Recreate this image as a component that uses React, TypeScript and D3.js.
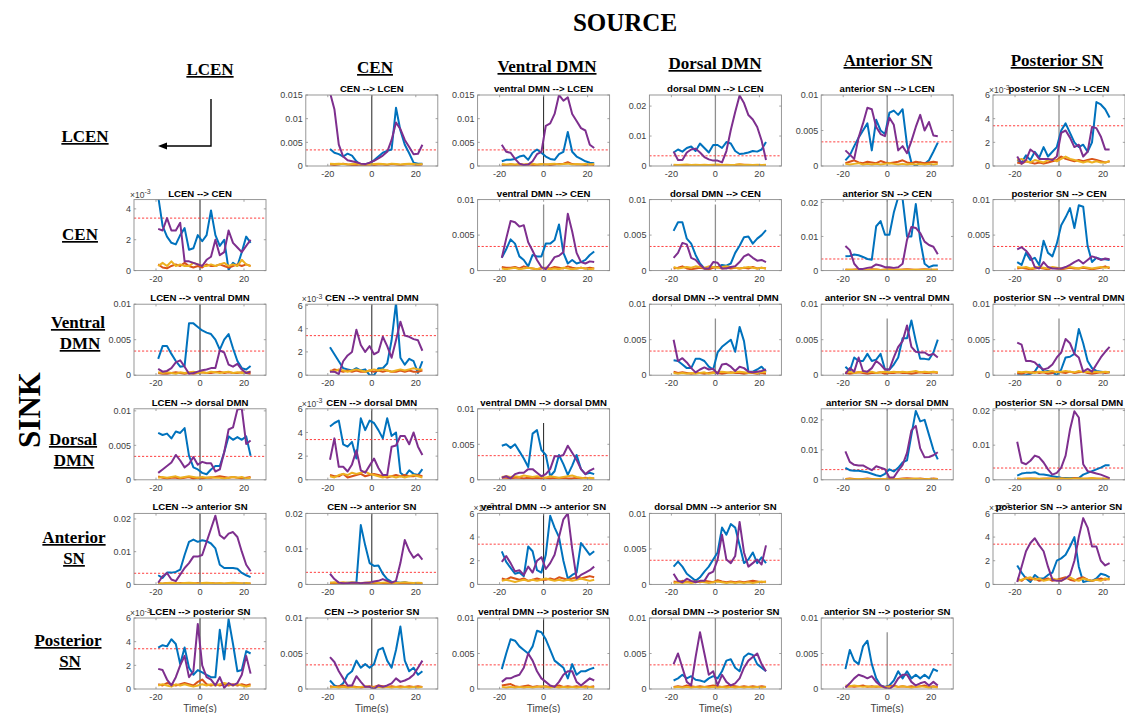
import React from "react";
import * as d3 from "d3";

// ---- time axis -------------------------------------------------------------
const TIME_POINTS = [-19, -17, -15, -13, -11, -9, -7, -5, -3, -1, 1, 3, 5, 7, 9, 11, 13, 15, 17, 19, 21, 23];
const X_DOMAIN: [number, number] = [-30, 30];
const X_TICKS = [-20, 0, 20];
const THRESHOLD = 3.4; // in units of 1e-3

// ---- regions ---------------------------------------------------------------
const REGION_NAMES = ["LCEN", "CEN", "ventral DMN", "dorsal DMN", "anterior SN", "posterior SN"];
const SOURCE_HEADERS = ["LCEN", "CEN", "Ventral DMN", "Dorsal DMN", "Anterior SN", "Posterior SN"];
const SINK_HEADERS = [["LCEN"], ["CEN"], ["Ventral", "DMN"], ["Dorsal", "DMN"], ["Anterior", "SN"], ["Posterior", "SN"]];

// ---- panels (column = source, row = sink) ---------------------------------
const panelSource = [1, 2, 3, 4, 5, 0, 2, 3, 4, 5, 0, 1, 3, 4, 5, 0, 1, 2, 4, 5, 0, 1, 2, 3, 5, 0, 1, 2, 3, 4];
const panelSink = [0, 0, 0, 0, 0, 1, 1, 1, 1, 1, 2, 2, 2, 2, 2, 3, 3, 3, 3, 3, 4, 4, 4, 4, 4, 5, 5, 5, 5, 5];
// upper y limit of each panel, units of 1e-3
const panelYMax = [15, 15, 23.7, 10, 6, 4.6, 10, 10, 20.8, 10, 10, 6.1, 10, 10, 10, 10.3, 6, 10, 23.7, 20.5, 21.7, 20, 6, 10, 6, 6, 10, 10, 10, 10];
// top of the onset marker at t = 0 (null: full height), units of 1e-3
const onsetTop: (number | null)[] = [null, null, null, null, null, null, 9.3, 9.3, null, null, null, null, 8, 8, 8, null, null, 8, null, null, null, null, null, null, null, null, null, null, null, 8];
const onsetGray = [false, false, true, true, true, false, true, true, true, true, false, false, true, true, true, false, false, false, true, true, false, false, false, true, true, false, false, false, true, true];

// ---- series, units of 1e-3 -------------------------------------------------
const blueSeries: number[][] = [
  [3.6, 2.8, 2.5, 2.0, 2.6, 2.2, 1.0, 0.2, 0.4, 0.6, 1.2, 2.0, 2.8, 3.2, 3.5, 12.3, 7.5, 4.5, 2.7, 0.7, 0.5, 0.5],
  [1.0, 1.3, 1.3, 1.5, 2.0, 2.2, 1.3, 2.8, 3.5, 2.8, 2.0, 1.5, 1.3, 2.5, 3.0, 7.2, 3.0, 2.0, 1.5, 1.0, 0.7, 0.6],
  [4.5, 5.5, 4.8, 6.0, 6.5, 5.0, 7.5, 6.0, 4.5, 7.0, 7.0, 6.0, 8.0, 7.5, 5.0, 4.0, 4.2, 4.5, 5.0, 4.8, 5.5, 8.0],
  [0.8, 1.5, 2.8, 4.0, 5.0, 6.0, 2.2, 6.5, 5.0, 4.5, 7.5, 7.8, 7.2, 8.0, 3.0, 0.5, 0.0, 0.5, 0.3, 0.8, 2.0, 3.3],
  [0.5, 0.3, 0.9, 0.5, 1.2, 0.7, 1.6, 0.8, 1.2, 1.6, 3.0, 3.6, 2.8, 2.0, 1.6, 1.8, 1.2, 2.0, 5.4, 5.2, 4.8, 4.1],
  [4.8, 2.9, 2.2, 1.8, 1.7, 2.3, 2.75, 1.35, 1.45, 2.3, 1.9, 2.3, 3.9, 2.3, 1.6, 2.0, 0.05, 0.5, 0.3, 1.2, 2.2, 1.8],
  [1.8, 3.0, 4.4, 3.8, 2.0, 1.5, 0.6, 2.2, 2.0, 2.0, 3.8, 3.8, 4.3, 6.5, 2.5, 1.0, 1.5, 1.0, 1.2, 1.5, 2.2, 2.7],
  [5.6, 6.8, 6.8, 4.5, 3.8, 2.2, 1.0, 0.3, 0.2, 0.5, 0.5, 0.8, 0.7, 1.0, 2.5, 3.5, 4.7, 4.8, 3.8, 4.5, 5.0, 5.7],
  [4.2, 4.3, 4.7, 4.5, 4.0, 3.4, 3.2, 13.0, 14.5, 10.5, 10.5, 17.0, 21.5, 21.0, 10.0, 10.0, 19.5, 9.0, 2.0, 1.0, 1.5, 1.5],
  [1.2, 0.8, 2.5, 1.5, 1.8, 0.8, 4.2, 2.5, 2.0, 3.8, 6.4, 7.5, 8.8, 6.0, 9.2, 9.0, 3.5, 1.2, 1.8, 1.6, 1.6, 1.5],
  [2.3, 4.1, 4.1, 3.0, 2.0, 1.2, 1.3, 7.3, 7.3, 6.8, 6.3, 6.0, 5.8, 5.0, 3.6, 5.0, 5.8, 3.8, 2.0, 1.0, 0.8, 1.3],
  [2.4, 1.8, 1.2, 0.6, 0.5, 0.4, 0.6, 0.4, 0.5, 0.0, 0.0, 0.6, 0.6, 1.0, 3.0, 6.2, 1.5, 0.9, 1.4, 1.2, 0.2, 1.2],
  [2.1, 2.0, 1.5, 1.0, 1.0, 2.3, 2.3, 2.0, 1.2, 0.8, 3.2, 4.0, 4.5, 5.0, 3.3, 6.8, 4.8, 0.5, 0.5, 0.8, 1.2, 0.5],
  [1.2, 0.6, 2.5, 2.0, 2.0, 3.0, 2.0, 2.2, 3.0, 0.8, 0.8, 1.5, 2.5, 5.2, 5.2, 7.7, 4.8, 2.3, 2.3, 2.2, 3.2, 5.0],
  [0.0, 0.0, 0.0, 0.2, 0.5, 1.5, 0.5, 0.6, 0.4, 0.0, 0.8, 2.5, 2.6, 3.0, 6.5, 4.5, 2.0, 1.0, 0.6, 0.5, 0.4, 0.4],
  [6.8, 6.5, 6.7, 6.0, 7.0, 6.8, 7.5, 3.5, 1.8, 1.5, 1.0, 0.8, 1.5, 2.0, 2.0, 4.0, 6.3, 5.8, 6.2, 5.8, 6.3, 3.5],
  [4.5, 4.8, 5.0, 3.0, 2.8, 3.2, 1.8, 5.2, 4.2, 5.0, 4.8, 4.2, 3.5, 5.2, 3.7, 4.0, 0.6, 0.3, 0.8, 0.5, 0.4, 0.9],
  [4.8, 5.0, 4.5, 5.0, 4.0, 3.0, 1.8, 6.5, 7.0, 4.2, 3.5, 0.5, 1.2, 3.5, 2.2, 0.7, 2.0, 3.5, 1.5, 0.8, 1.0, 0.8],
  [4.0, 3.2, 3.0, 3.0, 2.8, 2.5, 2.0, 1.5, 1.2, 2.0, 3.5, 2.8, 4.0, 5.8, 6.5, 15.0, 23.0, 19.5, 20.0, 15.0, 10.0, 6.8],
  [1.2, 1.8, 2.0, 2.0, 2.2, 1.6, 1.5, 1.3, 1.0, 0.8, 0.6, 0.5, 0.5, 0.5, 0.5, 1.5, 2.0, 2.5, 3.0, 3.5, 4.2, 4.2],
  [2.8, 2.0, 3.6, 3.6, 3.8, 4.5, 9.0, 13.0, 13.7, 13.0, 13.5, 13.2, 12.5, 11.0, 6.0, 5.0, 5.0, 5.0, 4.8, 3.5, 2.8, 2.2],
  [0.5, 0.3, 0.3, 0.3, 0.5, 0.5, 0.5, 16.7, 11.0, 6.0, 5.2, 5.3, 3.0, 1.5, 0.7, 0.6, 0.5, 0.6, 0.3, 0.2, 0.1, 0.0],
  [2.8, 1.9, 1.4, 0.9, 1.0, 0.7, 3.2, 2.8, 1.2, 1.0, 2.5, 5.8, 4.8, 4.0, 2.0, 0.5, 0.8, 1.0, 3.5, 3.0, 2.5, 2.8],
  [2.5, 3.2, 2.5, 1.5, 1.0, 0.5, 1.0, 1.8, 2.5, 3.5, 4.5, 8.0, 7.0, 8.5, 8.0, 5.5, 3.0, 3.5, 4.5, 3.0, 3.8, 3.0],
  [1.6, 1.0, 0.5, 0.2, 0.8, 0.5, 0.5, 0.8, 1.0, 2.0, 2.2, 2.5, 3.2, 4.0, 1.5, 0.2, 0.3, 0.3, 0.5, 0.9, 0.8, 0.6],
  [3.5, 3.7, 3.6, 4.2, 3.8, 2.1, 3.5, 1.8, 1.2, 1.6, 1.4, 1.2, 1.0, 1.0, 5.0, 2.5, 5.9, 3.8, 1.5, 1.6, 3.2, 3.0],
  [1.2, 0.5, 0.3, 0.8, 2.0, 2.5, 4.0, 3.0, 3.5, 3.0, 3.5, 5.5, 5.8, 4.0, 3.0, 5.5, 8.8, 4.0, 2.5, 3.0, 2.0, 2.5],
  [2.8, 5.0, 7.0, 6.8, 6.0, 5.5, 5.0, 6.0, 8.2, 8.0, 7.0, 5.5, 4.0, 3.5, 3.0, 1.5, 3.5, 2.0, 2.5, 2.5, 2.8, 3.0],
  [1.2, 1.5, 2.0, 1.5, 1.8, 1.3, 1.2, 1.0, 1.5, 1.8, 1.5, 2.5, 4.0, 4.2, 3.0, 2.5, 4.5, 5.0, 4.8, 3.5, 3.0, 2.5],
  [2.8, 5.5, 4.0, 3.5, 6.0, 6.8, 3.5, 1.5, 0.5, 0.3, 0.5, 1.2, 2.5, 1.5, 2.5, 1.5, 2.0, 1.5, 2.0, 1.5, 2.8, 2.5],
];

const purpleSeries: number[][] = [
  [15.5, 12.0, 4.5, 2.0, 1.2, 1.0, 0.8, 0.5, 0.4, 0.7, 1.1, 1.6, 2.2, 3.0, 5.5, 9.2, 7.8, 5.5, 4.0, 2.5, 2.6, 4.5],
  [4.5, 3.0, 2.8, 1.5, 0.5, 0.2, 0.3, 1.0, 2.5, 3.0, 8.5, 9.0, 11.0, 15.0, 13.8, 14.5, 11.0, 9.5, 8.0, 7.5, 4.5, 3.8],
  [4.8, 2.0, 2.0, 4.5, 5.5, 5.8, 4.5, 3.0, 2.2, 1.8, 1.8, 1.2, 5.0, 12.0, 18.0, 23.5, 21.0, 17.0, 15.5, 13.0, 8.5, 2.0],
  [2.2, 1.6, 1.0, 4.0, 6.0, 8.2, 8.0, 5.5, 4.5, 4.2, 6.8, 5.8, 2.2, 2.8, 1.8, 3.5, 5.5, 7.2, 5.0, 6.2, 4.3, 4.2],
  [0.8, 0.2, 0.5, 1.4, 1.1, 0.6, 0.6, 0.6, 0.5, 0.8, 2.8, 3.0, 2.4, 1.6, 1.8, 0.8, 1.2, 3.3, 3.2, 2.5, 1.4, 1.4],
  [2.7, 2.6, 3.4, 2.6, 2.6, 3.1, 0.6, 0.6, 0.5, 0.4, 0.3, 0.7, 0.9, 2.0, 1.0, 1.2, 2.6, 1.8, 1.5, 1.2, 1.6, 2.0],
  [1.8, 4.5, 7.0, 6.8, 6.2, 6.4, 4.0, 2.8, 1.5, 0.5, 0.2, 1.0, 1.9, 2.1, 2.6, 8.0, 5.5, 2.5, 1.2, 1.0, 1.3, 1.2],
  [1.8, 2.5, 3.9, 3.7, 1.8, 1.5, 0.8, 0.3, 0.3, 1.2, 1.1, 0.3, 0.3, 0.5, 0.6, 1.2, 2.0, 2.3, 1.8, 1.4, 1.5, 1.2],
  [7.2, 6.0, 2.0, 0.5, 0.5, 0.8, 1.0, 1.8, 1.5, 1.0, 1.0, 0.8, 1.0, 2.0, 9.0, 12.8, 12.5, 11.0, 8.5, 7.5, 7.0, 4.8],
  [3.0, 3.3, 2.8, 2.0, 0.5, 0.3, 1.2, 0.5, 0.3, 0.3, 0.3, 0.5, 0.8, 1.2, 1.5, 1.0, 1.5, 2.0, 1.8, 1.5, 1.7, 1.6],
  [0.9, 0.5, 0.6, 1.0, 1.8, 2.1, 1.2, 0.2, 0.3, 0.5, 0.7, 0.8, 1.0, 1.0, 3.5, 3.2, 1.5, 1.2, 1.6, 0.8, 0.3, 0.5],
  [0.3, 0.3, 0.1, 1.2, 1.7, 2.0, 3.9, 2.6, 2.0, 2.5, 1.8, 2.0, 3.3, 2.5, 1.5, 3.0, 4.6, 3.4, 3.3, 3.1, 3.0, 2.1],
  [5.0, 2.0, 2.4, 1.8, 1.0, 0.4, 0.8, 1.1, 0.8, 0.9, 0.2, 1.5, 1.6, 1.2, 0.6, 1.2, 1.0, 0.5, 0.4, 0.5, 0.6, 0.8],
  [0.2, 1.0, 0.5, 2.5, 0.6, 0.5, 1.0, 2.0, 1.5, 0.8, 0.8, 2.5, 4.0, 4.8, 7.0, 4.0, 3.3, 3.2, 3.2, 2.8, 3.0, 2.5],
  [4.6, 4.3, 2.0, 2.0, 1.8, 1.2, 0.8, 1.0, 1.5, 2.5, 3.2, 5.1, 4.5, 3.0, 2.5, 0.5, 0.9, 0.5, 1.5, 2.5, 3.3, 4.0],
  [1.0, 1.5, 2.0, 2.5, 3.6, 2.8, 1.8, 2.3, 3.3, 2.2, 2.6, 2.4, 2.4, 1.2, 1.5, 4.0, 7.3, 7.6, 10.2, 10.3, 5.2, 5.7],
  [1.7, 3.5, 1.1, 1.1, 0.7, 1.3, 2.5, 0.8, 0.6, 1.2, 1.8, 1.0, 0.4, 0.4, 2.8, 2.9, 3.7, 3.7, 3.0, 4.0, 2.8, 2.1],
  [0.3, 0.5, 0.2, 0.8, 1.0, 1.0, 1.5, 1.5, 1.0, 0.5, 0.8, 1.5, 3.3, 3.3, 3.5, 4.8, 3.8, 2.8, 1.5, 0.8, 1.3, 1.6],
  [9.5, 6.0, 5.0, 4.8, 4.8, 4.0, 3.2, 4.5, 4.0, 3.5, 0.8, 0.8, 3.0, 5.0, 9.0, 16.5, 18.0, 10.5, 7.5, 7.6, 8.2, 9.2],
  [11.0, 5.0, 4.5, 5.5, 7.0, 6.5, 5.0, 3.0, 1.5, 2.0, 3.5, 7.0, 14.5, 19.8, 18.0, 4.5, 2.5, 2.2, 1.8, 1.5, 1.0, 0.5],
  [0.5, 2.5, 3.5, 1.5, 1.0, 3.0, 5.0, 6.5, 8.5, 8.5, 9.0, 13.0, 17.0, 21.0, 15.0, 14.0, 15.5, 16.0, 14.5, 10.0, 6.0, 4.0],
  [3.0, 1.5, 0.5, 0.3, 0.3, 0.5, 0.5, 0.3, 0.5, 0.5, 0.8, 1.0, 1.5, 1.0, 0.5, 1.0, 6.0, 12.5, 9.5, 7.5, 8.5, 7.0],
  [1.9, 2.4, 1.8, 1.1, 1.2, 0.8, 1.5, 1.0, 2.0, 2.3, 1.3, 1.8, 2.5, 4.0, 5.5, 6.0, 3.0, 0.5, 0.8, 1.0, 1.2, 1.5],
  [1.5, 0.5, 0.3, 0.8, 0.5, 0.3, 0.5, 0.5, 1.5, 1.8, 3.5, 7.0, 3.5, 3.0, 4.0, 8.8, 4.5, 2.5, 3.0, 3.5, 2.8, 5.5],
  [0.2, 1.5, 2.8, 3.5, 3.9, 3.3, 2.8, 1.5, 0.4, 0.3, 0.3, 0.5, 0.8, 2.0, 4.0, 5.6, 4.8, 3.2, 3.2, 2.0, 1.6, 1.8],
  [1.7, 1.6, 0.8, 0.3, 1.0, 2.0, 2.8, 1.0, 1.5, 5.5, 2.0, 1.0, 0.8, 0.3, 1.0, 0.1, 0.5, 0.3, 0.5, 1.2, 2.8, 1.3],
  [4.5, 3.8, 2.5, 1.5, 0.5, 0.5, 1.8, 1.0, 0.3, 0.3, 0.0, 0.5, 0.3, 0.5, 0.8, 1.5, 1.0, 1.2, 1.5, 2.0, 3.0, 4.0],
  [1.0, 1.5, 1.5, 1.8, 2.0, 3.0, 5.0, 4.0, 2.5, 1.5, 1.0, 0.5, 0.3, 1.0, 2.0, 2.5, 2.5, 1.0, 0.5, 1.0, 1.5, 1.2],
  [3.5, 5.0, 3.0, 1.0, 0.5, 4.5, 8.0, 5.0, 2.0, 2.5, 0.5, 2.0, 1.0, 0.5, 0.8, 1.5, 3.0, 4.0, 4.5, 5.0, 3.5, 2.5],
  [0.2, 0.8, 1.5, 2.0, 1.8, 1.5, 1.8, 1.0, 0.5, 0.2, 0.0, 0.5, 1.5, 2.0, 2.0, 1.0, 0.5, 0.8, 1.0, 0.5, 1.0, 0.5],
];

const orangeSeries: number[][] = [
  [0.3, 0.2, 0.3, 0.5, 0.3, 0.2, 0.2, 0.3, 0.2, 0.3, 0.2, 0.3, 0.3, 0.2, 0.4, 0.3, 0.2, 0.3, 0.4, 0.3, 0.2, 0.3],
  [0.2, 0.2, 0.3, 0.2, 0.3, 0.2, 0.3, 0.2, 0.2, 0.3, 0.3, 0.2, 0.3, 0.4, 0.5, 0.8, 0.4, 0.3, 0.3, 0.2, 0.3, 0.2],
  [0.2, 0.3, 0.2, 0.3, 0.2, 0.3, 0.2, 0.2, 0.3, 0.2, 0.2, 0.3, 0.2, 0.3, 0.3, 0.5, 0.4, 0.3, 0.2, 0.3, 0.2, 0.2],
  [0.4, 0.6, 0.8, 0.5, 0.4, 0.6, 0.5, 0.4, 0.7, 0.5, 0.4, 0.5, 0.6, 0.8, 0.5, 0.4, 0.6, 0.5, 0.4, 0.5, 0.6, 0.5],
  [0.3, 0.2, 0.4, 0.3, 0.2, 0.3, 0.2, 0.3, 0.4, 0.5, 0.8, 0.6, 0.5, 0.4, 0.5, 0.4, 0.5, 0.6, 0.5, 0.4, 0.3, 0.4],
  [0.4, 0.2, 0.15, 0.3, 0.4, 0.3, 0.5, 0.3, 0.2, 0.3, 0.2, 0.4, 0.3, 0.3, 0.4, 0.3, 0.2, 0.3, 0.4, 0.3, 0.4, 0.3],
  [0.5, 0.4, 0.4, 0.5, 0.3, 0.6, 0.4, 0.3, 0.2, 0.3, 0.4, 0.3, 0.5, 0.4, 0.3, 0.6, 0.4, 0.3, 0.4, 0.3, 0.4, 0.3],
  [0.3, 0.4, 0.6, 0.3, 0.2, 0.3, 0.4, 0.3, 0.2, 0.4, 0.5, 0.3, 0.4, 0.3, 0.4, 0.3, 0.4, 0.3, 0.5, 0.3, 0.4, 0.3],
  [0.3, 0.2, 0.3, 0.4, 0.3, 0.2, 0.4, 0.3, 0.2, 0.3, 0.4, 0.3, 0.2, 0.3, 0.4, 0.3, 0.2, 0.3, 0.4, 0.3, 0.2, 0.3],
  [0.3, 0.4, 0.3, 0.2, 0.3, 0.4, 0.3, 0.2, 0.4, 0.3, 0.2, 0.3, 0.4, 0.3, 0.3, 0.4, 0.3, 0.2, 0.3, 0.4, 0.6, 0.3],
  [0.3, 0.2, 0.2, 0.3, 0.4, 0.3, 0.2, 0.3, 0.2, 0.3, 0.4, 0.3, 0.3, 0.4, 0.5, 0.3, 0.4, 0.3, 0.3, 0.4, 0.3, 0.2],
  [0.3, 0.5, 0.4, 0.3, 0.4, 0.3, 0.4, 0.3, 0.3, 0.4, 0.3, 0.4, 0.3, 0.4, 0.3, 0.3, 0.4, 0.3, 0.4, 0.3, 0.3, 0.4],
  [0.5, 0.3, 0.4, 0.3, 0.2, 0.3, 0.3, 0.2, 0.3, 0.4, 0.3, 0.2, 0.3, 0.4, 0.3, 0.3, 0.2, 0.3, 0.3, 0.2, 0.3, 0.2],
  [0.3, 0.2, 0.3, 0.4, 0.3, 0.2, 0.3, 0.3, 0.4, 0.2, 0.3, 0.3, 0.4, 0.3, 0.3, 0.2, 0.3, 0.4, 0.3, 0.3, 0.4, 0.3],
  [0.3, 0.2, 0.4, 0.3, 0.5, 0.3, 0.4, 0.2, 0.3, 0.5, 0.4, 0.3, 0.5, 0.3, 0.4, 0.5, 0.3, 0.2, 0.3, 0.4, 0.3, 0.4],
  [0.5, 0.3, 0.2, 0.3, 0.3, 0.2, 0.3, 0.4, 0.2, 0.3, 0.2, 0.3, 0.3, 0.4, 0.5, 0.4, 0.3, 0.4, 0.3, 0.2, 0.3, 0.4],
  [0.4, 0.3, 0.3, 0.5, 0.2, 0.3, 0.4, 0.5, 0.3, 0.4, 0.5, 0.4, 0.3, 0.2, 0.3, 0.4, 0.3, 0.4, 0.3, 0.3, 0.4, 0.3],
  [0.3, 0.3, 0.2, 0.3, 0.3, 0.2, 0.3, 0.2, 0.3, 0.2, 0.3, 0.2, 0.3, 0.2, 0.3, 0.2, 0.2, 0.3, 0.2, 0.3, 0.2, 0.2],
  [0.3, 0.4, 0.3, 0.2, 0.3, 0.4, 0.3, 0.3, 0.2, 0.3, 0.4, 0.3, 0.3, 0.4, 0.5, 0.4, 0.3, 0.4, 0.3, 0.3, 0.4, 0.3],
  [0.3, 0.2, 0.3, 0.4, 0.3, 0.2, 0.3, 0.4, 0.3, 0.3, 0.4, 0.3, 0.2, 0.5, 0.4, 0.3, 0.3, 0.4, 0.3, 0.3, 0.2, 0.3],
  [0.3, 0.2, 0.4, 0.3, 0.3, 0.4, 0.3, 0.3, 0.2, 0.4, 0.3, 0.3, 0.4, 0.3, 0.3, 0.2, 0.3, 0.4, 0.3, 0.3, 0.2, 0.3],
  [0.3, 0.4, 0.3, 0.2, 0.3, 0.4, 0.3, 0.3, 0.2, 0.3, 0.4, 0.3, 0.3, 0.2, 0.3, 0.4, 0.3, 0.3, 0.2, 0.3, 0.3, 0.2],
  [0.5, 0.4, 0.6, 0.5, 0.4, 0.5, 0.3, 0.4, 0.5, 0.4, 0.4, 0.5, 0.4, 0.6, 0.5, 0.4, 0.5, 0.6, 0.5, 0.6, 0.7, 0.6],
  [0.4, 0.3, 0.5, 0.4, 0.3, 0.4, 0.3, 0.5, 0.4, 0.3, 0.6, 0.4, 0.3, 0.4, 0.3, 0.4, 0.3, 0.4, 0.5, 0.4, 0.3, 0.4],
  [0.5, 0.3, 0.6, 0.4, 0.5, 0.3, 0.4, 0.5, 0.3, 0.4, 0.5, 0.6, 0.4, 0.3, 0.5, 0.6, 0.4, 0.3, 0.4, 0.5, 0.4, 0.5],
  [0.4, 0.3, 0.5, 0.4, 0.3, 0.4, 0.5, 0.4, 0.3, 0.6, 0.8, 0.4, 0.3, 0.4, 0.3, 0.4, 0.3, 0.4, 0.3, 0.4, 0.3, 0.4],
  [0.4, 0.3, 0.4, 0.5, 0.3, 0.4, 0.3, 0.2, 0.3, 0.4, 0.3, 0.5, 0.4, 0.3, 0.4, 0.3, 0.4, 0.3, 0.4, 0.3, 0.4, 0.3],
  [0.5, 0.6, 0.7, 0.4, 0.3, 0.4, 0.5, 0.3, 0.4, 0.3, 0.4, 0.3, 0.4, 0.5, 0.3, 0.4, 0.3, 0.4, 0.3, 0.4, 0.3, 0.4],
  [0.3, 0.4, 0.3, 0.5, 0.4, 0.3, 0.4, 0.3, 0.4, 0.5, 0.4, 0.3, 0.4, 0.5, 0.4, 0.3, 0.4, 0.3, 0.4, 0.3, 0.4, 0.3],
  [0.3, 0.4, 0.3, 0.4, 0.5, 0.3, 0.4, 0.3, 0.4, 0.3, 0.4, 0.5, 0.3, 0.4, 0.3, 0.4, 0.3, 0.4, 0.5, 0.3, 0.4, 0.3],
];

const yellowSeries: number[][] = [
  [0.5, 0.4, 0.5, 0.4, 0.3, 0.4, 0.5, 0.3, 0.4, 0.3, 0.4, 0.5, 0.4, 0.3, 0.5, 0.4, 0.3, 0.4, 0.5, 0.4, 0.3, 0.4],
  [0.4, 0.3, 0.4, 0.3, 0.4, 0.3, 0.4, 0.5, 0.3, 0.4, 0.3, 0.4, 0.5, 0.3, 0.4, 0.5, 0.3, 0.4, 0.3, 0.4, 0.3, 0.4],
  [0.4, 0.3, 0.4, 0.5, 0.3, 0.4, 0.3, 0.4, 0.3, 0.4, 0.5, 0.3, 0.4, 0.3, 0.4, 0.6, 0.3, 0.4, 0.3, 0.4, 0.3, 0.4],
  [0.3, 0.2, 0.3, 0.4, 0.2, 0.3, 0.2, 0.3, 0.2, 0.3, 0.4, 0.3, 0.2, 0.3, 0.2, 0.3, 0.2, 0.3, 0.2, 0.3, 0.2, 0.3],
  [0.5, 0.6, 0.4, 0.3, 0.5, 0.4, 0.3, 0.5, 0.6, 0.4, 0.6, 0.8, 0.6, 0.5, 0.4, 0.3, 0.4, 0.3, 0.4, 0.3, 0.3, 0.4],
  [0.3, 0.5, 0.3, 0.6, 0.3, 0.4, 0.3, 0.3, 0.5, 0.4, 0.3, 0.3, 0.4, 0.3, 0.4, 0.5, 0.3, 0.4, 0.3, 0.7, 0.4, 0.3],
  [0.3, 0.2, 0.3, 0.4, 0.2, 0.3, 0.4, 0.3, 0.2, 0.4, 0.3, 0.2, 0.3, 0.2, 0.4, 0.3, 0.2, 0.3, 0.4, 0.3, 0.2, 0.3],
  [0.5, 0.3, 0.4, 0.5, 0.4, 0.6, 0.5, 0.4, 0.6, 0.5, 0.4, 0.5, 0.6, 0.5, 0.4, 0.3, 0.4, 0.5, 0.4, 0.3, 0.4, 0.3],
  [0.2, 0.3, 0.2, 0.3, 0.2, 0.3, 0.2, 0.3, 0.2, 0.2, 0.3, 0.2, 0.3, 0.2, 0.3, 0.2, 0.3, 0.2, 0.3, 0.2, 0.3, 0.2],
  [0.5, 0.4, 0.5, 0.3, 0.4, 0.5, 0.4, 0.3, 0.5, 0.4, 0.3, 0.4, 0.5, 0.4, 0.3, 0.5, 0.4, 0.3, 0.4, 0.5, 0.4, 0.5],
  [0.4, 0.3, 0.4, 0.3, 0.2, 0.4, 0.3, 0.4, 0.5, 0.3, 0.4, 0.3, 0.5, 0.4, 0.3, 0.4, 0.5, 0.3, 0.4, 0.3, 0.4, 0.5],
  [0.4, 0.3, 0.5, 0.4, 0.3, 0.4, 0.5, 0.4, 0.3, 0.4, 0.5, 0.4, 0.5, 0.4, 0.3, 0.4, 0.5, 0.4, 0.5, 0.6, 0.5, 0.5],
  [0.3, 0.2, 0.3, 0.2, 0.3, 0.2, 0.3, 0.4, 0.2, 0.3, 0.4, 0.5, 0.4, 0.3, 0.4, 0.5, 0.4, 0.3, 0.4, 0.3, 0.4, 0.5],
  [0.4, 0.5, 0.3, 0.4, 0.5, 0.4, 0.5, 0.3, 0.4, 0.5, 0.4, 0.5, 0.4, 0.5, 0.4, 0.5, 0.6, 0.4, 0.5, 0.4, 0.5, 0.4],
  [0.5, 0.4, 0.5, 0.4, 0.3, 0.5, 0.4, 0.5, 0.6, 0.4, 0.5, 0.6, 0.5, 0.4, 0.6, 0.4, 0.5, 0.4, 0.5, 0.4, 0.5, 0.4],
  [0.3, 0.4, 0.3, 0.4, 0.5, 0.3, 0.4, 0.5, 0.4, 0.3, 0.4, 0.3, 0.4, 0.3, 0.3, 0.2, 0.3, 0.4, 0.3, 0.4, 0.2, 0.3],
  [0.3, 0.2, 0.4, 0.5, 0.4, 0.6, 0.5, 0.6, 0.7, 0.5, 0.4, 0.3, 0.2, 0.3, 0.3, 0.2, 0.3, 0.2, 0.3, 0.4, 0.3, 0.2],
  [0.4, 0.5, 0.4, 0.5, 0.4, 0.6, 0.5, 0.4, 0.5, 0.4, 0.3, 0.5, 0.4, 0.3, 0.4, 0.5, 0.6, 0.4, 0.3, 0.2, 0.3, 0.2],
  [0.2, 0.3, 0.2, 0.3, 0.2, 0.3, 0.2, 0.3, 0.2, 0.3, 0.2, 0.3, 0.2, 0.3, 0.2, 0.3, 0.4, 0.3, 0.2, 0.3, 0.2, 0.3],
  [0.4, 0.3, 0.4, 0.3, 0.4, 0.3, 0.4, 0.3, 0.4, 0.3, 0.4, 0.3, 0.4, 0.3, 0.4, 0.3, 0.4, 0.5, 0.4, 0.3, 0.4, 0.3],
  [0.4, 0.3, 0.4, 0.5, 0.4, 0.3, 0.4, 0.5, 0.4, 0.3, 0.4, 0.5, 0.4, 0.3, 0.4, 0.3, 0.4, 0.5, 0.4, 0.3, 0.4, 0.3],
  [0.5, 0.6, 0.5, 0.6, 0.5, 0.6, 0.5, 0.4, 0.5, 0.6, 0.5, 0.4, 0.5, 0.6, 0.5, 0.4, 0.5, 0.6, 0.5, 0.4, 0.5, 0.4],
  [0.3, 0.4, 0.3, 0.2, 0.3, 0.4, 0.3, 0.4, 0.3, 0.4, 0.5, 0.4, 0.3, 0.4, 0.3, 0.4, 0.3, 0.4, 0.5, 0.4, 0.3, 0.4],
  [0.2, 0.3, 0.2, 0.3, 0.2, 0.3, 0.4, 0.3, 0.2, 0.3, 0.4, 0.3, 0.2, 0.3, 0.2, 0.3, 0.2, 0.3, 0.2, 0.3, 0.4, 0.3],
  [0.3, 0.4, 0.5, 0.6, 0.4, 0.5, 0.3, 0.4, 0.5, 0.4, 0.3, 0.5, 0.6, 0.4, 0.3, 0.5, 0.4, 0.3, 0.4, 0.3, 0.5, 0.4],
  [0.3, 0.4, 0.3, 0.2, 0.4, 0.3, 0.4, 0.3, 0.2, 0.3, 0.4, 0.3, 0.4, 0.3, 0.4, 0.5, 0.4, 0.3, 0.4, 0.3, 0.2, 0.3],
  [0.2, 0.3, 0.2, 0.3, 0.2, 0.3, 0.2, 0.3, 0.4, 0.3, 0.2, 0.3, 0.2, 0.3, 0.2, 0.3, 0.2, 0.3, 0.2, 0.3, 0.2, 0.3],
  [0.3, 0.2, 0.3, 0.2, 0.3, 0.2, 0.3, 0.2, 0.3, 0.4, 0.3, 0.2, 0.3, 0.2, 0.3, 0.2, 0.3, 0.2, 0.3, 0.2, 0.3, 0.2],
  [0.2, 0.3, 0.2, 0.3, 0.2, 0.3, 0.2, 0.3, 0.2, 0.3, 0.2, 0.3, 0.2, 0.3, 0.2, 0.3, 0.2, 0.3, 0.2, 0.3, 0.2, 0.3],
  [0.5, 0.4, 0.5, 0.4, 0.3, 0.4, 0.3, 0.4, 0.3, 0.2, 0.3, 0.4, 0.3, 0.4, 0.3, 0.2, 0.3, 0.4, 0.3, 0.2, 0.3, 0.2],
];

// ---- styling -----------------------------------------------------------------
const COLORS = { blue: "#0072BD", orange: "#D95319", yellow: "#EDB120", purple: "#7E2F8E" };
const SANS = "'Liberation Sans', Arial, Helvetica, sans-serif";
const SERIF = "'Liberation Serif', 'Times New Roman', serif";
const AXIS_COLOR = "#8c8c8c";
const TICK_TEXT = "#404040";

// ---- grid layout ---------------------------------------------------------------
const WIDTH = 1125;
const HEIGHT = 713;
const FIRST_COL_ZERO = 200;
const COL_STEP = 171.8;
const FIRST_ROW_BOTTOM = 166;
const ROW_STEP = 104.6;
const PANEL_W = 132;
const PANEL_H = 71;

const headerX = [210, 375, 547, 715, 888, 1057];
const headerBaseline = [75, 73, 72, 69, 66, 66];
const sinkLabelX = [[85], [80], [78, 80], [73, 74], [74, 74], [68, 70]];
const sinkLabelBaseline = [[142], [240], [328, 349], [445, 466], [543, 564], [646, 667]];

function formatTick(v: number, sci: boolean): string {
  if (sci) return d3.format("d")(v);
  if (v === 0) return "0";
  return String(+(v * 1e-3).toPrecision(3));
}

function yTicksFor(yMax: number, sci: boolean): number[] {
  if (sci) return [0, 2, 4, 6].filter((t) => t <= yMax + 1e-9);
  if (yMax >= 20) return [0, 10, 20];
  if (yMax >= 15) return [0, 5, 10, 15];
  return [0, 5, 10];
}

function Panel({ idx }: { idx: number }) {
  const col = panelSource[idx];
  const row = panelSink[idx];
  const zeroX = FIRST_COL_ZERO + col * COL_STEP;
  const left = zeroX - PANEL_W / 2;
  const right = zeroX + PANEL_W / 2;
  const bottom = FIRST_ROW_BOTTOM + row * ROW_STEP;
  const top = bottom - PANEL_H;
  const yMax = panelYMax[idx];
  const sci = yMax <= 6.5;

  const x = d3.scaleLinear().domain(X_DOMAIN).range([left, right]);
  const y = d3.scaleLinear().domain([0, yMax]).range([bottom, top]);
  const line = d3
    .line<number>()
    .x((_, i) => x(TIME_POINTS[i]))
    .y((v) => y(v));

  const clipId = `clip-${idx}`;
  const series = [
    { values: blueSeries[idx], color: COLORS.blue },
    { values: orangeSeries[idx], color: COLORS.orange },
    { values: yellowSeries[idx], color: COLORS.yellow },
    { values: purpleSeries[idx], color: COLORS.purple },
  ];
  const onset = onsetTop[idx];
  const tickLen = 2.2;

  return (
    <g>
      <defs>
        <clipPath id={clipId}>
          <rect x={left} y={top} width={PANEL_W} height={PANEL_H} />
        </clipPath>
      </defs>
      <rect x={left} y={top} width={PANEL_W} height={PANEL_H} fill="#fff" />
      <g clipPath={`url(#${clipId})`}>
        <line
          x1={x(0)}
          x2={x(0)}
          y1={y(0)}
          y2={onset === null ? top : y(onset)}
          stroke={onsetGray[idx] ? "#8f8f8f" : "#222"}
          strokeWidth={onsetGray[idx] ? 1.3 : 1}
        />
        <line
          x1={left}
          x2={right}
          y1={y(THRESHOLD)}
          y2={y(THRESHOLD)}
          stroke="#ff2a2a"
          strokeWidth={0.9}
          strokeDasharray="2.2,1.8"
        />
        {series.map((s, k) => (
          <path
            key={k}
            d={line(s.values) ?? ""}
            fill="none"
            stroke={s.color}
            strokeWidth={2}
            strokeLinejoin="round"
          />
        ))}
      </g>
      {/* frame */}
      <rect x={left} y={top} width={PANEL_W} height={PANEL_H} fill="none" stroke={AXIS_COLOR} strokeWidth={0.9} />
      {/* x ticks */}
      {X_TICKS.map((t) => (
        <g key={`x${t}`}>
          <line x1={x(t)} x2={x(t)} y1={bottom} y2={bottom - tickLen} stroke={AXIS_COLOR} strokeWidth={0.8} />
          <line x1={x(t)} x2={x(t)} y1={top} y2={top + tickLen} stroke={AXIS_COLOR} strokeWidth={0.8} />
          <text x={x(t)} y={bottom + 11} textAnchor="middle" fontSize={9.2} fontFamily={SANS} fill={TICK_TEXT}>
            {t}
          </text>
        </g>
      ))}
      {/* y ticks */}
      {yTicksFor(yMax, sci).map((t) => (
        <g key={`y${t}`}>
          <line x1={left} x2={left + tickLen} y1={y(t)} y2={y(t)} stroke={AXIS_COLOR} strokeWidth={0.8} />
          <line x1={right} x2={right - tickLen} y1={y(t)} y2={y(t)} stroke={AXIS_COLOR} strokeWidth={0.8} />
          <text x={left - 3} y={y(t) + 3.2} textAnchor="end" fontSize={9} fontFamily={SANS} fill={TICK_TEXT}>
            {formatTick(t, sci)}
          </text>
        </g>
      ))}
      {sci && (
        <text x={left - 4} y={top - 2} fontSize={8.5} fontFamily={SANS} fill={TICK_TEXT}>
          ×10
          <tspan dy={-3.5} fontSize={7}>
            -3
          </tspan>
        </text>
      )}
      <text
        x={zeroX}
        y={top - 3}
        textAnchor="middle"
        fontSize={9.6}
        fontWeight="bold"
        fontFamily={SANS}
        fill="#000"
      >
        {`${REGION_NAMES[col]} --> ${REGION_NAMES[row]}`}
      </text>
      {row === 5 && (
        <text x={zeroX} y={bottom + 23} textAnchor="middle" fontSize={10} fontFamily={SANS} fill={TICK_TEXT}>
          Time(s)
        </text>
      )}
    </g>
  );
}

export default function App() {
  const headerStyle = { textDecoration: "underline" } as React.CSSProperties;
  return (
    <svg
      width={WIDTH}
      height={HEIGHT}
      viewBox={`0 0 ${WIDTH} ${HEIGHT}`}
      style={{ position: "absolute", left: 0, top: 0, background: "#fff" }}
    >
      <rect width={WIDTH} height={HEIGHT} fill="#fff" />
      <text x={625} y={31} textAnchor="middle" fontSize={25} fontWeight="bold" fontFamily={SERIF}>
        SOURCE
      </text>
      <text
        transform="translate(40,410) rotate(-90)"
        textAnchor="middle"
        fontSize={31}
        fontWeight="bold"
        fontFamily={SERIF}
      >
        SINK
      </text>
      {SOURCE_HEADERS.map((h, i) => (
        <text
          key={h}
          x={headerX[i]}
          y={headerBaseline[i]}
          textAnchor="middle"
          fontSize={17}
          fontWeight="bold"
          fontFamily={SERIF}
          style={headerStyle}
        >
          {h}
        </text>
      ))}
      {SINK_HEADERS.map((lines, r) =>
        lines.map((ln, k) => (
          <text
            key={`${r}-${k}`}
            x={sinkLabelX[r][k]}
            y={sinkLabelBaseline[r][k]}
            textAnchor="middle"
            fontSize={17}
            fontWeight="bold"
            fontFamily={SERIF}
            style={headerStyle}
          >
            {ln}
          </text>
        ))
      )}
      {/* self-connection cell: arrow from the source column into the sink row */}
      <g stroke="#000" strokeWidth={1.4} fill="none">
        <path d="M211,99 L211,146 L165,146" />
      </g>
      <path d="M158,146 L167,142.5 L167,149.5 Z" fill="#000" />
      {panelSource.map((_, i) => (
        <Panel key={i} idx={i} />
      ))}
    </svg>
  );
}
